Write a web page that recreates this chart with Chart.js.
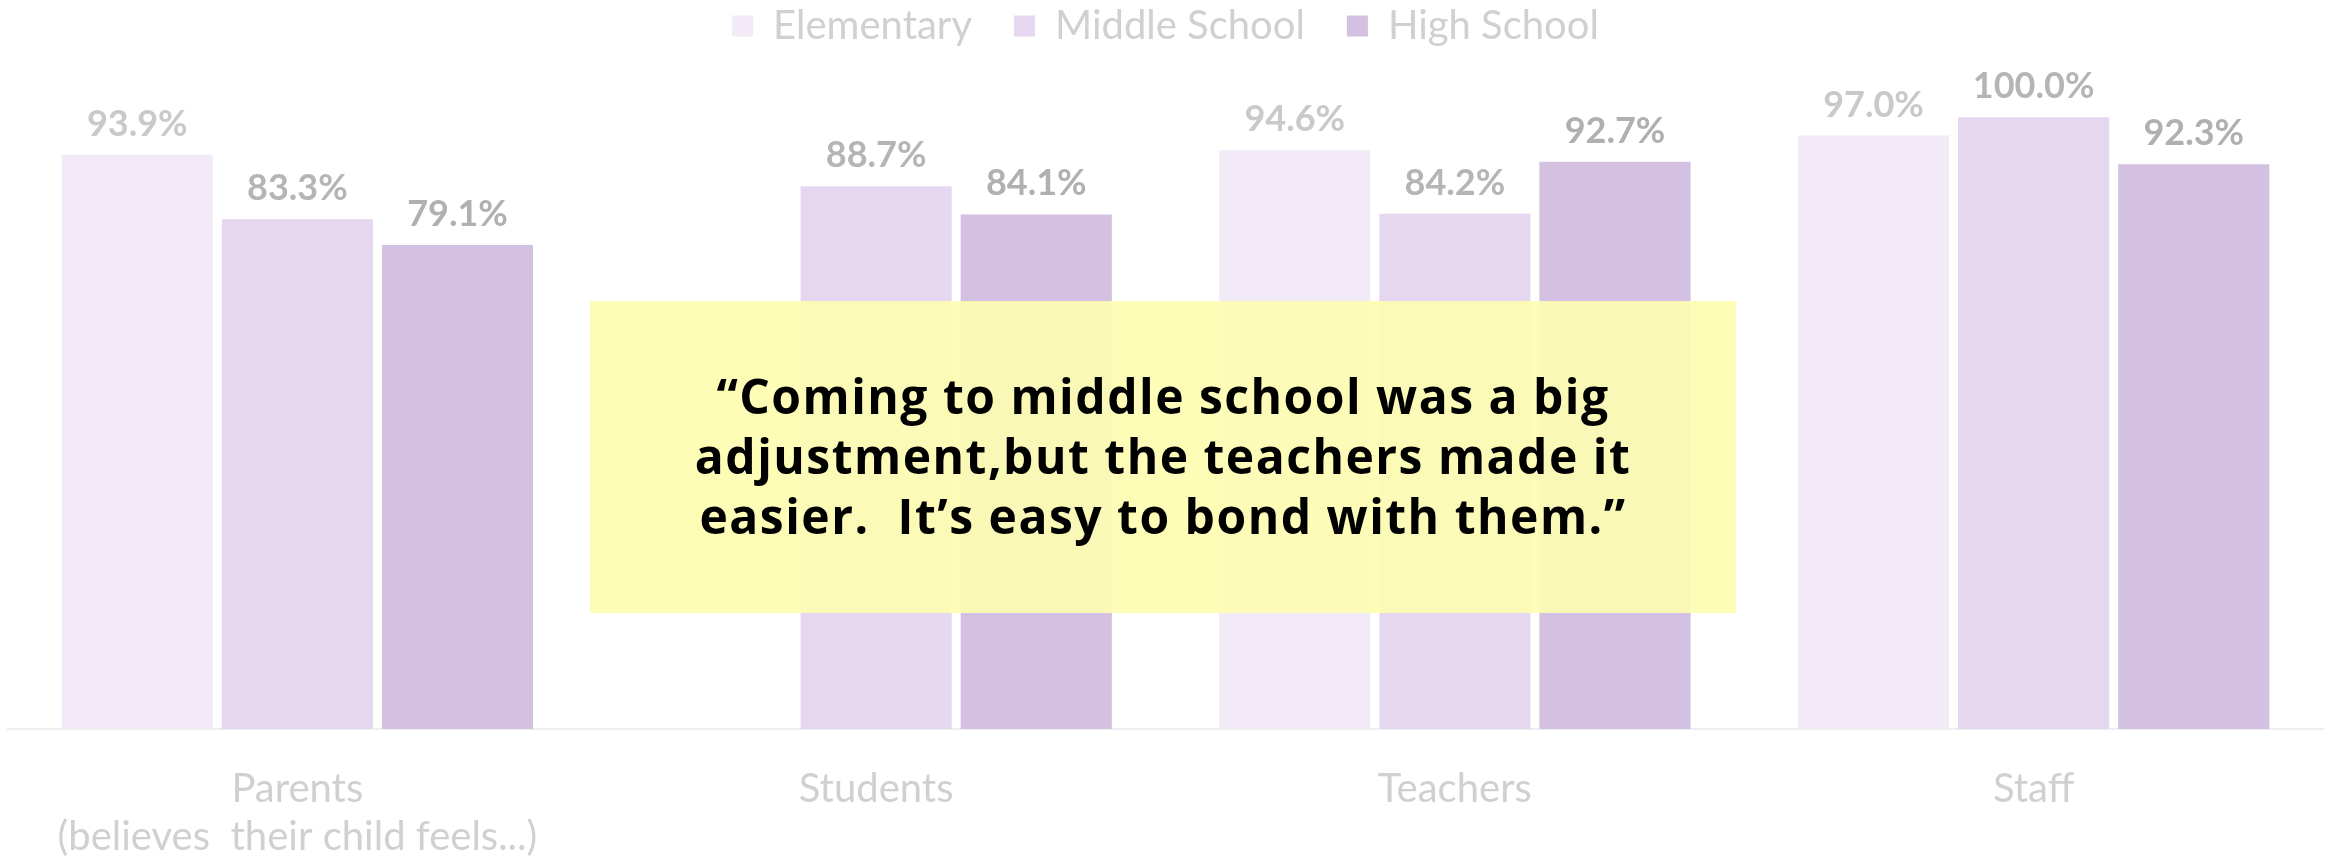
<!DOCTYPE html>
<html>
<head>
<meta charset="utf-8">
<script src="https://cdn.jsdelivr.net/npm/chart.js@4.4.0/dist/chart.umd.min.js"></script>
<style>
  html, body { margin: 0; padding: 0; background: #ffffff; }
  canvas { display: block; }
</style>
</head>
<body>
<canvas id="myChart" width="2336" height="856"></canvas>
<script>
// chart values
const categories = [
  "Parents|(believes  their child feels...)",
  "Students",
  "Teachers",
  "Staff",
];
const seriesNames = ["Elementary", "Middle School", "High School"];
const elementary = [93.9, null, 94.6, 97.0];
const middleSchool = [83.3, 88.7, 84.2, 100.0];
const highSchool = [79.1, 84.1, 92.7, 92.3];

const quoteLines = [
  "\u201CComing to middle school was a big",
  "adjustment,but the teachers made it",
  "easier.  It\u2019s easy to bond with them.\u201D",
];

const barColors = ["#F2EAF7", "#E6D7F0", "#D4C0E1"];
const labelColors = ["#C9C9C9", "#B5B5B5", "#B0B0B0"];

// value labels above each bar
const barValueLabels = {
  id: "barValueLabels",
  afterDatasetsDraw(chart) {
    const ctx = chart.ctx;
    ctx.save();
    ctx.font = "bold 36px Lato";
    ctx.textAlign = "center";
    ctx.textBaseline = "alphabetic";
    chart.data.datasets.forEach((ds, i) => {
      const meta = chart.getDatasetMeta(i);
      meta.data.forEach((bar, j) => {
        const v = ds.data[j];
        if (v === null || v === undefined) return;
        ctx.fillStyle = labelColors[i];
        ctx.fillText(v.toFixed(1) + "%", bar.x, bar.y - 19);
      });
    });
    ctx.restore();
  },
};

// yellow quote box on top of the chart
const quoteBox = {
  id: "quoteBox",
  afterDraw(chart) {
    const ctx = chart.ctx;
    const box = { left: 590, top: 301, right: 1736, bottom: 613 };
    ctx.save();
    ctx.fillStyle = "rgba(253, 253, 178, 0.92)";
    ctx.fillRect(box.left, box.top, box.right - box.left, box.bottom - box.top);
    ctx.fillStyle = "#000000";
    ctx.font = "bold 48px 'Open Sans'";
    ctx.letterSpacing = "1.5px";
    ctx.textAlign = "center";
    ctx.textBaseline = "alphabetic";
    const cx = (box.left + box.right) / 2;
    quoteLines.forEach((line, k) => {
      ctx.fillText(line, cx, 414 + k * 60);
    });
    ctx.restore();
  },
};

const ctx = document.getElementById("myChart").getContext("2d");
const myChart = new Chart(ctx, {
  type: "bar",
  data: {
    labels: categories.map((c) => c.split("|")),
    datasets: [
      { label: seriesNames[0], data: elementary, backgroundColor: barColors[0] },
      { label: seriesNames[1], data: middleSchool, backgroundColor: barColors[1] },
      { label: seriesNames[2], data: highSchool, backgroundColor: barColors[2] },
    ],
  },
  options: {
    responsive: false,
    animation: false,
    devicePixelRatio: 1,
    layout: {
      padding: { top: -36, left: 8, right: 13, bottom: -33 },
    },
    datasets: {
      bar: {
        categoryPercentage: 0.83,
        barPercentage: 0.944,
      },
    },
    scales: {
      x: {
        grid: { display: false },
        border: { display: true, color: "#EEEEEE", width: 2 },
        ticks: {
          color: "#D0D0D0",
          font: { family: "Lato", size: 40 },
          padding: 28,
          maxRotation: 0,
        },
      },
      y: {
        display: false,
        min: 0,
        max: 110,
      },
    },
    plugins: {
      legend: {
        position: "top",
        labels: {
          color: "#D0D0D0",
          font: { family: "Lato", size: 40 },
          boxWidth: 21,
          boxHeight: 21,
          padding: 42,
        },
      },
      tooltip: { enabled: false },
    },
  },
  plugins: [barValueLabels, quoteBox],
});
</script>
</body>
</html>
